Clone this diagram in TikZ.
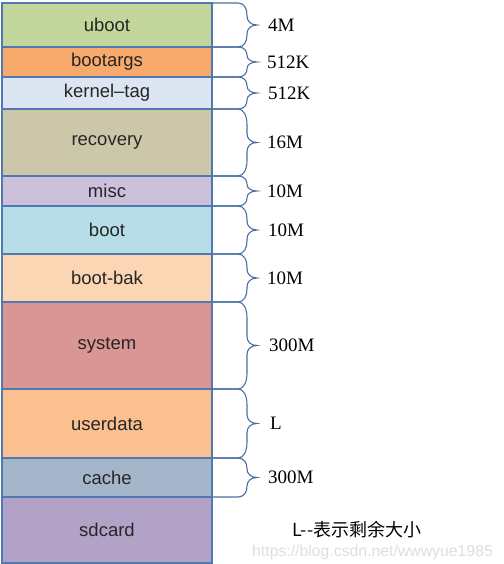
\documentclass[tikz,border=0pt]{standalone}
\usepackage{fontspec}
\setmainfont{Liberation Serif}
\setsansfont{Liberation Sans}
\newfontfamily\cjk{Noto Sans CJK SC}
\usetikzlibrary{positioning, calc}

\definecolor{partline}{HTML}{4F79B0}
\definecolor{braceline}{HTML}{4A6FA3}
\definecolor{ubootc}{HTML}{C3D69B}
\definecolor{bootargsc}{HTML}{F8A96C}
\definecolor{kerneltagc}{HTML}{DCE6F2}
\definecolor{recoveryc}{HTML}{CBC7A8}
\definecolor{miscc}{HTML}{CCC0DA}
\definecolor{bootc}{HTML}{B7DEE8}
\definecolor{bootbakc}{HTML}{FCD5B5}
\definecolor{systemc}{HTML}{D99694}
\definecolor{userdatac}{HTML}{FAC090}
\definecolor{cachec}{HTML}{A5B5CA}
\definecolor{sdcardc}{HTML}{B3A2C7}

\begin{document}
\begin{tikzpicture}[
            node distance=0pt,
            part/.style={rectangle, draw=partline, line width=1.3pt, minimum width=210pt, inner sep=0pt, outer sep=0pt, font=\sffamily\fontsize{18.5}{20}\selectfont, text=black!85},
            size/.style={anchor=west, inner sep=0pt, font=\fontsize{19}{21}\selectfont},
            szbrace/.style={draw=braceline, line width=1.1pt,
              to path={let \p1=(\tikztostart), \p2=(\tikztotarget), \p3=($(\p1)!0.5!(\p2)$),
                \n1={0.5*(\y1-\y2)}, \n2={min(0.55*\n1,16)}, \n3={min(0.45*\n1,9)} in
                -- (\x1+26pt,\y1) .. controls (\x1+32pt,\y1) and (\x1+35pt,\y1-0.45*\n2) .. (\x1+35pt,\y1-\n2)
                -- (\x1+35pt,\y3+\n3) .. controls (\x1+35pt,\y3+0.4*\n3) and (\x1+39pt,\y3) .. (\x1+45pt,\y3)
                .. controls (\x1+39pt,\y3) and (\x1+35pt,\y3-0.4*\n3) .. (\x1+35pt,\y3-\n3)
                -- (\x1+35pt,\y2+\n2) .. controls (\x1+35pt,\y2+0.45*\n2) and (\x1+32pt,\y2) .. (\x1+26pt,\y2)
                -- (\tikztotarget)}}
        ]
            \useasboundingbox (0,0) rectangle (503pt,-564pt);

            % --- partitions ---
            \node[part, fill=ubootc, minimum height=44pt, anchor=north west] (uboot) at (2pt,-3pt) {uboot};
            \node[part, fill=bootargsc, minimum height=30pt, below=of uboot] (bootargs) {bootargs};
            \node[part, fill=kerneltagc, minimum height=32pt, below=of bootargs] (kerneltag) {kernel--tag};
            \node[part, fill=recoveryc, minimum height=67pt, below=of kerneltag] (recovery) {recovery};
            \node[part, fill=miscc, minimum height=30pt, below=of recovery] (misc) {misc};
            \node[part, fill=bootc, minimum height=48pt, below=of misc] (boot) {boot};
            \node[part, fill=bootbakc, minimum height=48pt, below=of boot] (bootbak) {boot-bak};
            \node[part, fill=systemc, minimum height=87pt, below=of bootbak] (system) {system};
            \node[part, fill=userdatac, minimum height=69pt, below=of system] (userdata) {userdata};
            \node[part, fill=cachec, minimum height=39pt, below=of userdata] (cache) {cache};
            \node[part, fill=sdcardc, minimum height=66pt, below=of cache] (sdcard) {sdcard};

            % --- sizes ---
            \draw[szbrace] (uboot.north east) to (uboot.south east);
            \draw[szbrace] (bootargs.north east) to (bootargs.south east);
            \draw[szbrace] (kerneltag.north east) to (kerneltag.south east);
            \draw[szbrace] (recovery.north east) to (recovery.south east);
            \draw[szbrace] (misc.north east) to (misc.south east);
            \draw[szbrace] (boot.north east) to (boot.south east);
            \draw[szbrace] (bootbak.north east) to (bootbak.south east);
            \draw[szbrace] (system.north east) to (system.south east);
            \draw[szbrace] (userdata.north east) to (userdata.south east);
            \draw[szbrace] (cache.north east) to (cache.south east);

            \node[size] (s-uboot) at ([xshift=56pt]uboot.east) {4M};
            \node[size] (s-bootargs) at ([xshift=55pt]bootargs.east) {512K};
            \node[size] (s-kerneltag) at ([xshift=56pt]kerneltag.east) {512K};
            \node[size] (s-recovery) at ([xshift=55pt]recovery.east) {16M};
            \node[size] (s-misc) at ([xshift=55pt]misc.east) {10M};
            \node[size] (s-boot) at ([xshift=56pt]boot.east) {10M};
            \node[size] (s-bootbak) at ([xshift=55pt]bootbak.east) {10M};
            \node[size] (s-system) at ([xshift=57pt]system.east) {300M};
            \node[size] (s-userdata) at ([xshift=58pt]userdata.east) {L};
            \node[size] (s-cache) at ([xshift=56pt]cache.east) {300M};

            % --- note ---
            \node[anchor=west, inner sep=0pt, font=\cjk\fontsize{18}{20}\selectfont] (note) at (292pt,-530pt) {L{-}{-}表示剩余大小};
            \node[anchor=west, inner sep=0pt, text=black!13, font=\sffamily\fontsize{15.8}{17}\selectfont] (mark) at (252pt,-552pt) {https://blog.csdn.net/wwwyue1985};

        \end{tikzpicture}
\end{document}
